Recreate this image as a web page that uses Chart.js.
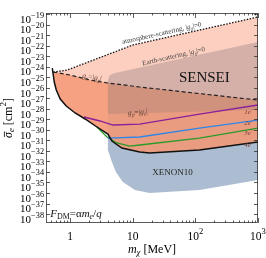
<!DOCTYPE html>
<html>
<head>
<meta charset="utf-8">
<script src="https://cdn.jsdelivr.net/npm/chart.js@4.4.1/dist/chart.umd.min.js"></script>
<style>
  body { margin: 0; background: #fff; }
</style>
</head>
<body>
<canvas id="grafico" width="266" height="258"></canvas>
<script>
// Masas en MeV, secciones eficaces como log10(sigma / cm^2)
const masaLimite = [0.518, 0.537, 0.557, 0.600, 0.694, 0.865, 1.20, 1.73, 2.68, 4.0, 4.64, 6.69, 12.9, 18.6, 116, 1000];
const sigmaLimite = [-24.13, -24.79, -25.46, -26.22, -27.07, -27.74, -28.40, -28.97, -29.73, -30.40, -31.06, -31.73, -32.11, -32.20, -31.92, -31.16];

// atmosphere-scattering (punteada)
const masaAtm = [0.537, 0.896, 10, 1000];
const sigmaAtm = [-24.51, -24.32, -21.94, -19.28];

// g_e = |g_chi| (discontinua)
const masaGe = [0.537, 1.0, 2.08, 4.0, 12.9, 1000];
const sigmaGe = [-24.51, -24.79, -25.27, -25.55, -25.93, -27.17];

// SENSEI / Earth-scattering
const masaSensei = [4.0, 4.31, 5.18, 1000];
const sigmaSensei = [-25.27, -24.79, -24.60, -21.66];
const masaBanda = [4.0, 1000];
const sigmaBanda = [-28.50, -28.12];

// XENON10
const masaXenon = [4.0, 4.0, 4.64, 5.37, 6.93, 10.8, 18.6, 116, 1000, 1000];
const sigmaXenon = [-30.40, -31.92, -33.06, -34.0, -34.95, -35.71, -36.0, -35.71, -34.76, -30.97];

// curvas 1e-, 2e-, 3e-
const masa1e = [1.67, 2.99, 4.82, 12.9, 116, 1000];
const sigma1e = [-28.78, -29.16, -29.54, -29.45, -28.50, -27.64];
const masa2e = [4.0, 12.9, 116, 1000];
const sigma2e = [-30.78, -30.68, -29.83, -29.07];
const masa3e = [2.68, 3.87, 5.57, 8.96, 12.9, 116, 1000];
const sigma3e = [-29.73, -30.68, -31.25, -31.54, -31.44, -30.78, -29.83];

// ticks
const decadasX = [1, 10, 100, 1000];
const etiquetasX = [['1'], ['10'], ['10', '2'], ['10', '3']];
const decadasY = [-19, -20, -21, -22, -23, -24, -25, -26, -27, -28, -29, -30, -31, -32, -33, -34, -35, -36, -37, -38];

const FUENTE = '"Liberation Serif", "DejaVu Serif", serif';

function puntos(masas, sigmas) {
    return masas.map((m, i) => ({ x: m, y: Math.pow(10, sigmas[i]) }));
}

function region(mArriba, sArriba, mAbajo, sAbajo) {
    return puntos(mArriba, sArriba).concat(puntos(mAbajo, sAbajo).reverse());
}

// Texto con subindices / superindices
function textoRico(ctx, partes, x, y, tam, opciones = {}) {
    const { angulo = 0, alinear = 'center', color = '#000', centrado = false } = opciones;
    const piezas = partes.map(([t, tipo = '']) => {
        const sub = tipo.includes('sub');
        const sup = tipo.includes('sup');
        const f = sub ? tam * 0.72 : sup ? tam * 0.75 : tam;
        const font = (tipo.startsWith('i') ? 'italic ' : '') + f + 'px ' + FUENTE;
        ctx.font = font;
        return {
            t, font, f,
            w: ctx.measureText(t).width,
            dy: sub ? tam * 0.22 : sup ? -tam * 0.48 : 0,
            barra: tipo.includes('bar')
        };
    });
    const total = piezas.reduce((s, p) => s + p.w, 0);
    let cx = alinear === 'center' ? -total / 2 : alinear === 'right' ? -total : 0;
    const base = centrado ? tam * 0.32 : 0;

    ctx.save();
    ctx.translate(x, y);
    ctx.rotate(angulo * Math.PI / 180);
    ctx.fillStyle = color;
    ctx.strokeStyle = color;
    ctx.textAlign = 'left';
    ctx.textBaseline = 'alphabetic';
    piezas.forEach(p => {
        ctx.font = p.font;
        ctx.fillText(p.t, cx, base + p.dy);
        if (p.barra) {
            ctx.lineWidth = 0.8;
            ctx.beginPath();
            ctx.moveTo(cx + 1, base - tam * 0.62);
            ctx.lineTo(cx + p.w + 0.5, base - tam * 0.62);
            ctx.stroke();
        }
        cx += p.w;
    });
    ctx.restore();
    return total;
}

const marcoYTextos = {
    id: 'marcoYTextos',
    afterDatasetsDraw(chart) {
        const ctx = chart.ctx;
        const xs = chart.scales.x;
        const ys = chart.scales.y;
        const px = m => xs.getPixelForValue(m);
        const py = s => ys.getPixelForValue(Math.pow(10, s));

        textoRico(ctx, [['atmosphere-scattering, |'], ['g', 'i'], ['χ', 'isub'], ['|=0']],
            px(28.9), py(-21.18) - 4, 7, { angulo: -12.6, color: '#333', centrado: true });
        textoRico(ctx, [['Earth-scattering, |'], ['g', 'i'], ['χ', 'isub'], ['|=0']],
            px(44.8), py(-22.99), 7, { angulo: -13, color: '#444', centrado: true });
        textoRico(ctx, [['SENSEI']], px(139), py(-24.98), 15, { color: '#111', centrado: true });
        textoRico(ctx, [['g', 'i'], ['e', 'isub'], ['=|'], ['g', 'i'], ['χ', 'isub'], ['|']],
            px(2.23), py(-24.98), 7.5, { angulo: 9, color: '#5a3a30', centrado: true });
        textoRico(ctx, [['g', 'i'], ['p', 'isub'], ['=|'], ['g', 'i'], ['e', 'isub'], ['|']],
            px(12.0), py(-28.31), 7.5, { angulo: -5, color: '#5a3a30', centrado: true });
        textoRico(ctx, [['XENON10']], px(43.2), py(-34.0), 9, { color: '#222', centrado: true });
        textoRico(ctx, [['F', 'i'], ['DM', 'sub'], ['=α'], ['m', 'i'], ['e', 'isub'], ['/'], ['q', 'i']],
            px(0.48), py(-37.9), 11, { alinear: 'left', color: '#111', centrado: true });

        const electrones = [['1', -28.31], ['2', -29.35], ['3', -30.30], ['4', -31.44]];
        electrones.forEach(([n, s]) => {
            textoRico(ctx, [[n, 'i'], ['e', 'i'], ['−', 'sup']], px(720), py(s), 7,
                { color: '#7d3f35', centrado: true });
        });
    },
    afterDraw(chart) {
        const ctx = chart.ctx;
        const { left, right, top, bottom } = chart.chartArea;
        const xs = chart.scales.x;
        const ys = chart.scales.y;

        ctx.save();
        ctx.strokeStyle = '#333';
        ctx.lineWidth = 0.8;
        ctx.strokeRect(left + 0.5, top + 0.5, right - left - 1, bottom - top - 1);

        // ticks x (mayores y menores), abajo y arriba
        ctx.beginPath();
        for (let e = -1; e <= 3; e++) {
            for (let k = 1; k <= 9; k++) {
                const v = k * Math.pow(10, e);
                if (v < xs.min || v > xs.max) continue;
                const x = Math.round(xs.getPixelForValue(v)) + 0.5;
                const largo = k === 1 ? 5 : 2.5;
                ctx.moveTo(x, bottom);
                ctx.lineTo(x, bottom - largo);
                ctx.moveTo(x, top);
                ctx.lineTo(x, top + largo);
            }
        }
        // ticks y, izquierda y derecha
        decadasY.forEach(e => {
            const y = Math.round(ys.getPixelForValue(Math.pow(10, e))) + 0.5;
            ctx.moveTo(left, y);
            ctx.lineTo(left + 4, y);
            ctx.moveTo(right, y);
            ctx.lineTo(right - 4, y);
        });
        ctx.stroke();
        ctx.restore();

        // etiquetas y
        decadasY.forEach(e => {
            const y = ys.getPixelForValue(Math.pow(10, e));
            textoRico(ctx, [['10'], ['−' + Math.abs(e), 'sup']], 44, y + 8.8, 11, { alinear: 'right' });
        });

        // etiquetas x: centradas completas, sin salirse del lienzo
        decadasX.forEach((v, i) => {
            const x = xs.getPixelForValue(v);
            const [base, exp] = etiquetasX[i];
            const partes = exp ? [[base], [exp, 'sup']] : [[base]];
            ctx.font = '11.5px ' + FUENTE;
            let w = ctx.measureText(base).width;
            if (exp) {
                ctx.font = (11.5 * 0.75) + 'px ' + FUENTE;
                w += ctx.measureText(exp).width;
            }
            const inicio = Math.min(x - w / 2, chart.width - w);
            textoRico(ctx, partes, inicio, 240, 11.5, { alinear: 'left' });
        });

        // titulos de ejes
        textoRico(ctx, [['m', 'i'], ['χ', 'isub'], [' [MeV]']], 152, 249, 12, { centrado: true });
        textoRico(ctx, [['σ', 'ibar'], ['e', 'isub'], [' [cm'], ['2', 'sup'], [']']], 8, 118, 12,
            { angulo: -90, centrado: true });
    }
};

const relleno = (data, color, orden) => ({
    data, backgroundColor: color, borderWidth: 0, fill: 'shape', order: orden, pointRadius: 0
});
const linea = (data, color, ancho, orden, dash = []) => ({
    data, borderColor: color, borderWidth: ancho, borderDash: dash, fill: false, order: orden, pointRadius: 0
});

const ctx = document.getElementById('grafico').getContext('2d');

new Chart(ctx, {
    type: 'line',
    data: {
        datasets: [
            relleno(puntos(masaXenon, sigmaXenon), '#adbdd1', 10),
            relleno(region(masaAtm, sigmaAtm, masaLimite.slice(1), sigmaLimite.slice(1)), '#fccfc0', 9),
            relleno(region(masaGe, sigmaGe, masaLimite.slice(1), sigmaLimite.slice(1)), '#f6a282', 8),
            relleno(region(masaSensei, sigmaSensei, masaBanda, sigmaBanda), 'rgba(120,105,115,0.30)', 7),
            relleno(region(masaBanda, sigmaBanda, masaLimite.slice(9), sigmaLimite.slice(9)), 'rgba(120,105,115,0.10)', 6),
            linea(puntos(masaAtm, sigmaAtm), '#111', 1.3, 5, [1.5, 1.5]),
            linea(puntos(masaGe, sigmaGe), '#222', 1.2, 5, [4, 2.5]),
            linea(puntos(masa1e, sigma1e), '#8a1f9a', 1.3, 4),
            linea(puntos(masa2e, sigma2e), '#2e86e8', 1.3, 4),
            linea(puntos(masa3e, sigma3e), '#2a9a2a', 1.3, 4),
            linea(puntos(masaLimite, sigmaLimite), '#111', 1.5, 3)
        ]
    },
    options: {
        responsive: false,
        animation: false,
        devicePixelRatio: 1,
        layout: { padding: { top: 13, right: 8, left: 0, bottom: 0 } },
        plugins: { legend: { display: false }, tooltip: { enabled: false } },
        elements: { line: { tension: 0 }, point: { radius: 0 } },
        scales: {
            x: {
                type: 'logarithmic',
                min: 0.411,
                max: 1000,
                ticks: { display: false },
                grid: { display: false },
                border: { display: false },
                afterFit: s => { s.height = 35; }
            },
            y: {
                type: 'logarithmic',
                min: Math.pow(10, -38.85),
                max: Math.pow(10, -18.9),
                ticks: { display: false },
                grid: { display: false },
                border: { display: false },
                afterFit: s => { s.width = 46; }
            }
        }
    },
    plugins: [marcoYTextos]
});
</script>
</body>
</html>
